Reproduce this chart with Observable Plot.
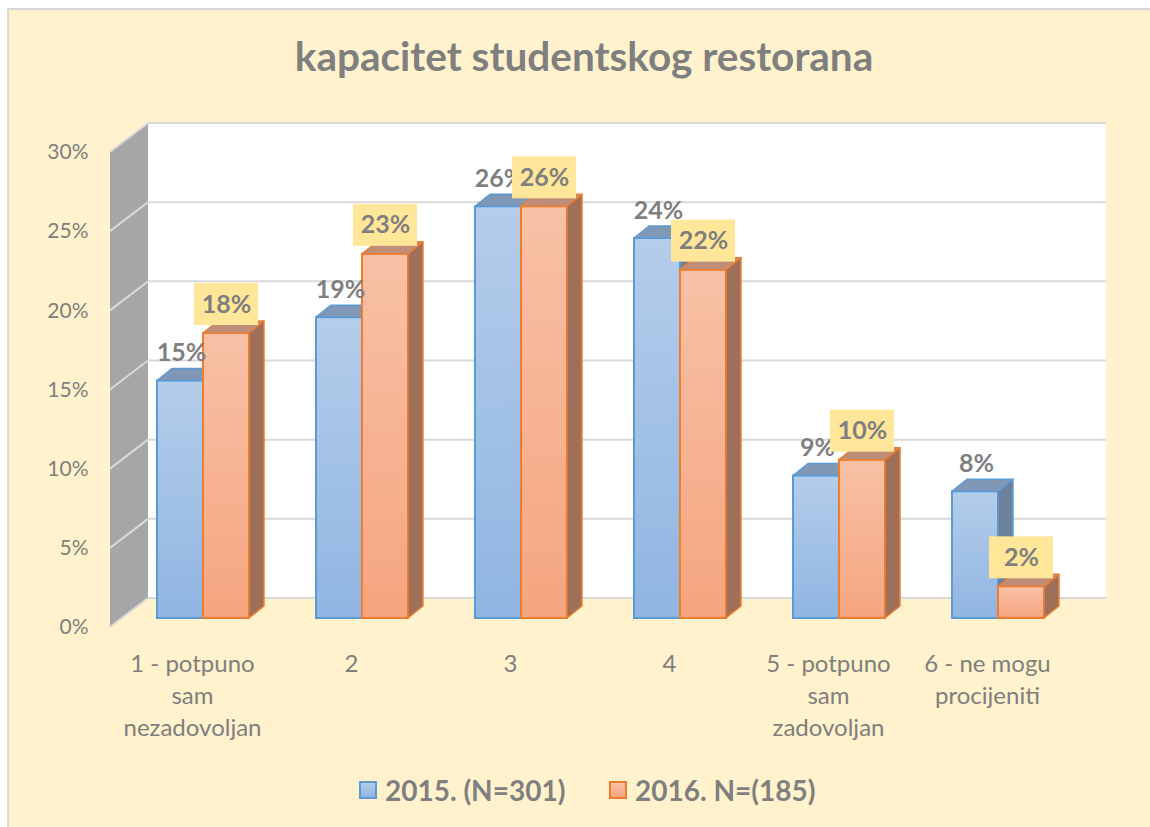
<!DOCTYPE html>
<html><head><meta charset="utf-8">
<script src="https://cdn.jsdelivr.net/npm/d3@7"></script>
<script src="https://cdn.jsdelivr.net/npm/@observablehq/plot@0.6"></script>
<style>
body{margin:0;background:#fff;font-family:Lato,"Open Sans",sans-serif;}
#wrap{position:relative;width:1150px;height:827px;overflow:hidden;}
#bg{position:absolute;left:7px;top:8px;width:1160px;height:840px;background:#FFF2CC;border-left:2px solid #d9d9d9;border-top:2px solid #d9d9d9;}
#title{position:absolute;left:0;width:1168px;top:32px;text-align:center;font-weight:bold;font-size:40.5px;line-height:48px;color:#7f7f7f;}
#plot{position:absolute;left:0;top:0;}
.leg{position:absolute;top:772px;display:flex;align-items:center;font-weight:bold;font-size:28px;line-height:36px;color:#7f7f7f;}
.sw{width:14px;height:14px;border:2px solid;margin-right:8px;}
</style></head>
<body>
<div id="wrap">
  <div id="bg"></div>
  <div id="plot"></div>
  <div id="title">kapacitet studentskog restorana</div>
  <div class="leg" style="left:359px"><div class="sw" style="background:linear-gradient(#b4cdea,#90b5e2);border-color:#5b9bd5"></div><span id="s1"></span></div>
  <div class="leg" style="left:609px"><div class="sw" style="background:linear-gradient(#f8c1a6,#f5a57f);border-color:#ed7d31"></div><span id="s2"></span></div>
</div>
<script>
const categories = ["1 - potpuno\nsam\nnezadovoljan", "2", "3", "4", "5 - potpuno\nsam\nzadovoljan", "6 - ne mogu\nprocijeniti"];
const values2015 = [0.15, 0.19, 0.26, 0.24, 0.09, 0.08];
const values2016 = [0.18, 0.23, 0.26, 0.22, 0.10, 0.02];
const seriesNames = ["2015. (N=301)", "2016. N=(185)"];
const yTicks = [0, 0.05, 0.10, 0.15, 0.20, 0.25, 0.30];

document.getElementById("s1").textContent = seriesNames[0];
document.getElementById("s2").textContent = seriesNames[1];

const rows2015 = categories.map((c, i) => ({cat: c, v: values2015[i]}));
const rows2016 = categories.map((c, i) => ({cat: c, v: values2016[i]}));

const W = 1150, H = 827, ML = 110, MR = 82, MT = 152, MB = 200;
const PAD = 0.424;
const step = (W - ML - MR) / categories.length;
const bw = step * (1 - PAD);
const half = bw / 2;
const WDX = 38, WDY = -29;   // wall depth
const BDX = 11, BDY = -9;    // bar placement depth
const FDX = 15, FDY = -12;   // bar depth
const GRID = "#d9d9d9";
const TXT = "#7f7f7f";

function defs() {
  const svg = d3.create("svg:defs");
  const g1 = svg.append("linearGradient").attr("id", "gBlue").attr("x1", 0).attr("y1", 0).attr("x2", 0).attr("y2", 1);
  g1.append("stop").attr("offset", "0%").attr("stop-color", "#b4cdea");
  g1.append("stop").attr("offset", "100%").attr("stop-color", "#90b5e2");
  const g2 = svg.append("linearGradient").attr("id", "gOrange").attr("x1", 0).attr("y1", 0).attr("x2", 0).attr("y2", 1);
  g2.append("stop").attr("offset", "0%").attr("stop-color", "#f8c1a6");
  g2.append("stop").attr("offset", "100%").attr("stop-color", "#f5a57f");
  return svg.node();
}

function walls(index, scales, values, dim) {
  const x0 = dim.marginLeft, x1 = dim.width - dim.marginRight;
  const y0 = scales.y(0), yT = scales.y(yTicks[yTicks.length - 1]);
  const g = d3.create("svg:g");
  g.append("rect").attr("x", x0 + WDX).attr("y", yT + WDY).attr("width", x1 - x0).attr("height", y0 - yT).attr("fill", "white");
  g.append("path").attr("d", `M${x0},${y0}L${x0},${yT}L${x0 + WDX},${yT + WDY}L${x0 + WDX},${y0 + WDY}Z`).attr("fill", "#a6a6a6");
  for (const t of yTicks) {
    const y = scales.y(t);
    g.append("line").attr("x1", x0).attr("y1", y).attr("x2", x0 + WDX).attr("y2", y + WDY).attr("stroke", GRID).attr("stroke-width", 2);
    g.append("line").attr("x1", x0 + WDX).attr("y1", y + WDY).attr("x2", x1 + WDX).attr("y2", y + WDY).attr("stroke", GRID).attr("stroke-width", 2);
  }
  return g.node();
}

function faces(rows, right, topColor, sideColor, stroke) {
  return (index, scales, values, dim) => {
    const g = d3.create("svg:g").attr("stroke", stroke).attr("stroke-width", 1.5).attr("stroke-linejoin", "round");
    for (const d of rows) {
      const xl = scales.x(d.cat) + BDX + (right ? half : 0);
      const xr = xl + half;
      const yt = scales.y(d.v) + BDY;
      const yb = scales.y(0) + BDY;
      g.append("path").attr("d", `M${xl},${yt}L${xr},${yt}L${xr + FDX},${yt + FDY}L${xl + FDX},${yt + FDY}Z`).attr("fill", topColor);
      g.append("path").attr("d", `M${xr},${yt}L${xr + FDX},${yt + FDY}L${xr + FDX},${yb + FDY}L${xr},${yb}Z`).attr("fill", sideColor);
    }
    return g.node();
  };
}

const fmt = v => `${Math.round(v * 100)}%`;

const chart = Plot.plot({
  width: W, height: H,
  marginLeft: ML, marginRight: MR, marginTop: MT, marginBottom: MB,
  style: {background: "transparent", fontFamily: "Lato, 'Open Sans', sans-serif", overflow: "visible"},
  x: {type: "band", domain: categories, paddingInner: PAD, paddingOuter: PAD / 2, axis: null},
  y: {domain: [0, 0.30], axis: null},
  marks: [
    defs,
    walls,
    Plot.text(yTicks, {y: d => d, text: fmt, frameAnchor: "left", textAnchor: "end", dx: -22, fontSize: 21, fill: TXT}),
    Plot.text(categories, {x: d => d, text: d => d, frameAnchor: "bottom", lineAnchor: "top", dy: 22, lineHeight: 1.33, fontSize: 24, fill: TXT}),
    Plot.barY(rows2015, {x: "cat", y: "v", dx: BDX, dy: BDY, insetRight: half, fill: "url(#gBlue)", stroke: "#5b9bd5", strokeWidth: 2}),
    faces(rows2015, false, "#8097b5", "#6e819c", "#5b9bd5"),
    Plot.barY(rows2016, {x: "cat", y: "v", dx: BDX, dy: BDY, insetLeft: half, fill: "url(#gOrange)", stroke: "#ed7d31", strokeWidth: 2}),
    faces(rows2016, true, "#bf8e7b", "#9e705a", "#ed7d31"),
    Plot.text(rows2015, {x: "cat", y: "v", text: d => fmt(d.v), dx: -11, dy: -37, fontSize: 25, fontWeight: "bold", fill: TXT}),
    Plot.barY(rows2016, {x: "cat", y1: "v", y2: "v", dx: BDX, dy: BDY, insetLeft: half - 9, insetRight: -9, insetTop: -50, insetBottom: 8, fill: "#ffe699"}),
    Plot.text(rows2016, {x: "cat", y: "v", text: d => fmt(d.v), dx: BDX + half / 2, dy: -38, fontSize: 25, fontWeight: "bold", fill: TXT})
  ]
});
document.getElementById("plot").appendChild(chart);
</script>
</body></html>
